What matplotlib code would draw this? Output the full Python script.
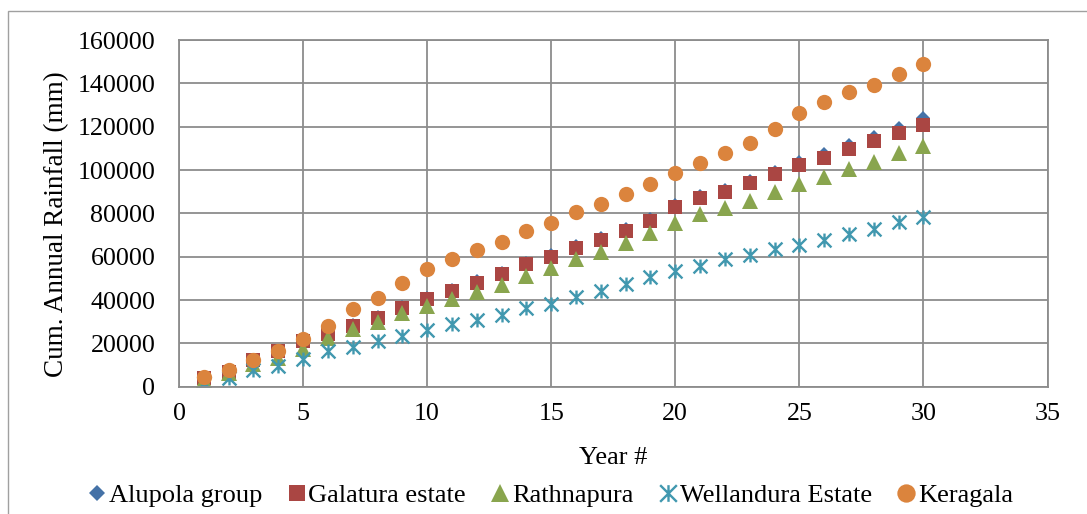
import numpy as np
import matplotlib.pyplot as plt
from matplotlib.path import Path
from matplotlib.patches import Rectangle

# ------------------------------------------------------------
# data (cumulative rainfall, mm)
# ------------------------------------------------------------
years = list(range(1, 31))

alupola = [3900, 7300, 12300, 16700, 21500, 25000, 28700, 32300, 37000, 41000,
           44800, 48600, 52500, 57000, 60800, 65000, 68600, 73000, 77500, 83800,
           87800, 90800, 94700, 99200, 103600, 107300, 111500, 115300, 119600, 124000]

galatura = [3800, 7000, 12100, 16300, 21200, 24500, 28100, 31700, 36500, 40500,
            44100, 47900, 51800, 56400, 60000, 64100, 67600, 72000, 76700, 83100,
            86900, 90000, 93900, 98000, 102200, 105700, 109900, 113400, 117300, 121000]

rathnapura = [3300, 6500, 10500, 13200, 17400, 22400, 26400, 29700, 34000, 37100,
              40500, 43600, 47100, 51300, 54900, 59000, 62100, 66400, 71000, 75700,
              79500, 82600, 85700, 89800, 93400, 96900, 100600, 103700, 107700, 111100]

wellandura = [1500, 4000, 7800, 9700, 12700, 16300, 18300, 20900, 23500, 26300,
              28900, 31000, 33300, 36300, 38200, 41400, 44100, 47500, 50500, 53200,
              55900, 58800, 60800, 63400, 65400, 67700, 70300, 72700, 75800, 78500]

keragala = [4300, 7800, 12400, 16600, 22100, 28100, 35800, 40900, 47800, 54400,
            59000, 63300, 67000, 71700, 75700, 80600, 84500, 89100, 93700, 98500,
            103100, 108000, 112400, 118800, 126200, 131600, 136200, 139300, 144500, 148800]

series_names = ["Alupola group", "Galatura estate", "Rathnapura",
                "Wellandura Estate", "Keragala"]

x_ticks = [0, 5, 10, 15, 20, 25, 30, 35]
y_ticks = [0, 20000, 40000, 60000, 80000, 100000, 120000, 140000, 160000]

# Excel star marker: an X with a vertical bar through it
star = Path([(-1, -1), (1, 1), (-1, 1), (1, -1), (0, -1), (0, 1)],
            [Path.MOVETO, Path.LINETO, Path.MOVETO, Path.LINETO,
             Path.MOVETO, Path.LINETO])

plt.rcParams['font.family'] = ['Liberation Serif', 'DejaVu Serif']
plt.rcParams['font.size'] = 18.7

fig = plt.figure(figsize=(10.87, 5.14), dpi=100)
ax = fig.add_axes([179 / 1087, 1 - 386.7 / 514, 868.5 / 1087, 346.7 / 514])

# outer chart frame (only left / top edges are visible in the crop)
fig.patches.append(Rectangle((8 / 1087, -0.1), 1.2, (514 - 10.5) / 514 + 0.1,
                             transform=fig.transFigure, fill=False,
                             edgecolor='#A0A0A0', lw=1.0, zorder=0))

styles = [
    (alupola,    dict(marker='D', color='#4572A7', ms=7.0, mew=0)),
    (galatura,   dict(marker='s', color='#AA4643', ms=10.0, mew=0)),
    (rathnapura, dict(marker='^', color='#89A54E', ms=11.0, mew=0)),
    (wellandura, dict(marker=star, color='#4198AF', ms=10.0, mew=1.7,
                      markerfacecolor='none', markeredgecolor='#4198AF')),
    (keragala,   dict(marker='o', color='#DB843D', ms=11.0, mew=0)),
]

for (vals, st), name in zip(styles, series_names):
    ax.plot(years, vals, ls='none', label=name, **st)

ax.set_xlim(0, 35)
ax.set_ylim(0, 160000)
ax.set_xticks(x_ticks)
ax.set_yticks(y_ticks)
ax.set_xticklabels([str(v) for v in x_ticks])
ax.set_yticklabels([str(v) for v in y_ticks])

ax.grid(True, color='#8C8C8C', lw=1.3)
ax.set_axisbelow(True)
for side in ['left', 'bottom', 'right', 'top']:
    ax.spines[side].set_color('#8C8C8C')
    ax.spines[side].set_linewidth(1.3)
ax.tick_params(axis='both', length=0)
ax.tick_params(axis='y', pad=17)
ax.tick_params(axis='x', pad=12)

ax.set_xlabel("Year #", fontsize=19)
ax.xaxis.set_label_coords(0.5, -0.175)
ax.set_ylabel("Cum. Annual Rainfall (mm)", fontsize=19.5)
ax.yaxis.set_label_coords(-0.127, 0.47)

fig.legend(loc='center', bbox_to_anchor=(0.507, 0.036), ncol=5, frameon=False,
           handlelength=0.6, handletextpad=0.15, columnspacing=1.0,
           borderaxespad=0, fontsize=19, markerscale=1.2)

fig.savefig("out.png", dpi=100)
